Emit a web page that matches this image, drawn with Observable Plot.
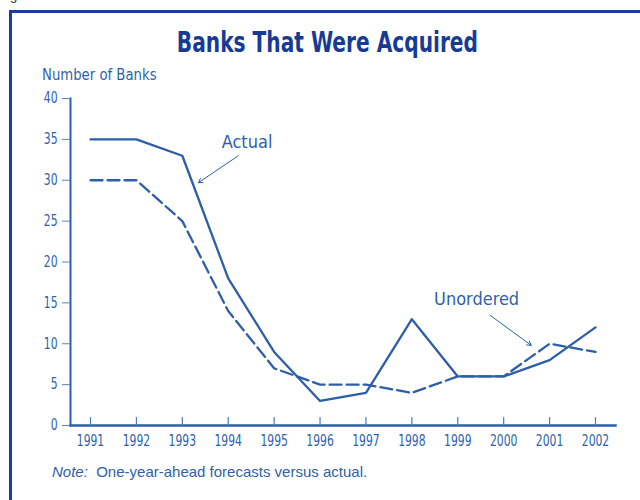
<!DOCTYPE html>
<html>
<head>
<meta charset="utf-8">
<script src="https://cdn.jsdelivr.net/npm/d3@7"></script>
<script src="https://cdn.jsdelivr.net/npm/@observablehq/plot@0.6"></script>
<style>
  html, body { margin: 0; padding: 0; background: #fff; }
  #wrap { position: relative; width: 640px; height: 500px; overflow: hidden; background: #fff; }
  #frame { position: absolute; left: 9px; top: 10px; width: 700px; height: 600px;
           border-top: 3px solid #1b3da0; border-left: 3px solid #1b3da0; box-sizing: border-box; z-index: 2; }
  .lbl { position: absolute; white-space: nowrap; line-height: 1; z-index: 3; }
  #fig { left: 10px; top: -12px; font: 13px "Liberation Sans", Arial, sans-serif; color: #222; }
  #title { left: 0; width: 655px; text-align: center; top: 26px;
           font: bold 28px "Liberation Sans Narrow", "DejaVu Sans Condensed", "Arial Narrow", sans-serif; color: #173b94;
           transform: scaleX(0.8); transform-origin: 327px 0; }
  #ylabel { left: 42px; top: 65px; font: 16px "Liberation Sans Narrow", "DejaVu Sans Condensed", sans-serif; color: #2f5fab;
            transform: scaleX(0.92); transform-origin: 0 0; }
  #note { left: 52px; top: 463px; font: 15px "Liberation Sans", Arial, sans-serif; color: #2f5fab; }
  #chart { position: absolute; left: 0; top: 0; z-index: 1; }
</style>
</head>
<body>
<div id="wrap">
  <div id="frame"></div>
  <div class="lbl" id="fig">g</div>
  <div class="lbl" id="title">Banks That Were Acquired</div>
  <div class="lbl" id="ylabel">Number of Banks</div>
  <div class="lbl" id="note"><i>Note:</i>&nbsp; One-year-ahead forecasts versus actual.</div>
  <div id="chart"></div>
</div>
<script>
// ---- data ----
const years = [1991, 1992, 1993, 1994, 1995, 1996, 1997, 1998, 1999, 2000, 2001, 2002];
const actual = [35, 35, 33, 18, 9, 3, 4, 13, 6, 6, 8, 12];
const forecast = [30, 30, 25, 14, 7, 5, 5, 4, 6, 6, 10, 9];
const yTicks = [0, 5, 10, 15, 20, 25, 30, 35, 40];

// annotation labels and pointer arrows (in data coordinates)
const labels = [
  {text: "Actual", x: 1994.41, y: 34.7},
  {text: "Unordered", x: 1999.41, y: 15.4}
];
const pointers = [
  {x1: 1994.22, y1: 33.0, x2: 1993.35, y2: 29.7},
  {x1: 1999.70, y1: 13.5, x2: 2000.60, y2: 9.8}
];

const actualData = years.map((yr, i) => ({year: yr, value: actual[i]}));
const forecastData = years.map((yr, i) => ({year: yr, value: forecast[i]}));

const blue = "#2d5ea9";
const textBlue = "#2f5fab";

const tickShape = {
  draw(context, l) { context.moveTo(0, 0); context.lineTo(0, -l); }
};

const chart = Plot.plot({
  width: 640,
  height: 500,
  marginLeft: 70,
  marginRight: 25,
  marginTop: 98,
  marginBottom: 75,
  style: {background: "transparent", fontFamily: "'Liberation Sans Narrow', 'DejaVu Sans Condensed', sans-serif", fontSize: "15px", color: textBlue},
  x: {domain: [1991, 2002], inset: 20},
  y: {domain: [0, 40]},
  marks: [
    Plot.frame({anchor: "left", stroke: blue, strokeWidth: 2}),
    Plot.frame({anchor: "bottom", stroke: blue, strokeWidth: 2.5}),
    Plot.axisY({ticks: yTicks, tickSize: 8, tickPadding: 5, label: null, stroke: "#5a82c0", fill: textBlue, fontSize: 15}),
    Plot.axisX({ticks: years, tickFormat: d => String(d), tickSize: 0, tickPadding: 10, label: null, fill: textBlue, fontSize: 15}),
    Plot.vector(years, {x: d => d, y: () => 0, length: 8, anchor: "start", shape: tickShape, stroke: "#4d78bb", strokeWidth: 1.2}),
    Plot.line(forecastData, {x: "year", y: "value", stroke: blue, strokeWidth: 2.3, strokeDasharray: "12,5"}),
    Plot.line(actualData, {x: "year", y: "value", stroke: blue, strokeWidth: 2.3}),
    Plot.arrow(pointers, {x1: "x1", y1: "y1", x2: "x2", y2: "y2", stroke: blue, strokeWidth: 1, headLength: 7}),
    Plot.text(labels, {x: "x", y: "y", text: "text", fill: textBlue, fontSize: 18, textAnchor: "middle", lineAnchor: "middle"})
  ]
});

// condense the axis tick labels horizontally (keeps them as real text)
d3.select(chart).selectAll("g[aria-label='x-axis tick label'] text, g[aria-label='y-axis tick label'] text")
  .each(function() {
    const t = this.getAttribute("transform") || "";
    this.setAttribute("transform", (t + " scale(0.8,1)").trim());
  });

document.getElementById("chart").appendChild(chart);
</script>
</body>
</html>
